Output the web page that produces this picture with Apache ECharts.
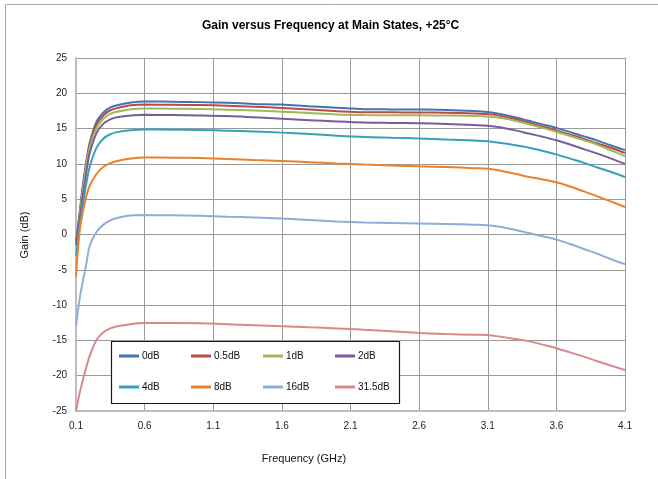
<!DOCTYPE html>
<html>
<head>
<meta charset="utf-8">
<script src="https://cdn.jsdelivr.net/npm/echarts@6/dist/echarts.min.js"></script>
<style>
html,body{margin:0;padding:0;background:#fff;}
#chart{width:658px;height:479px;}
</style>
</head>
<body>
<div id="chart"></div>
<script>
// Frequency points (GHz)
var freqGHz = [0.1,0.125,0.15,0.175,0.2,0.25,0.3,0.35,0.4,0.5,0.6,0.8,1.0,1.2,1.4,1.6,1.8,2.0,2.2,2.4,2.6,2.8,3.0,3.1,3.2,3.3,3.4,3.5,3.6,3.7,3.8,3.9,4.0,4.1];

// Gain (dB) for each attenuation state
var gain0dB   = [-1.2,2.8,7.0,10.3,13.0,16.0,17.3,18.0,18.3,18.7,18.85,18.8,18.75,18.65,18.5,18.4,18.15,17.95,17.75,17.72,17.7,17.65,17.5,17.35,17.05,16.6,16.1,15.6,15.1,14.5,13.9,13.3,12.6,11.95];
var gain05dB  = [-1.3,2.6,6.7,10.0,12.7,15.6,16.9,17.6,17.9,18.3,18.4,18.38,18.33,18.25,18.1,17.92,17.7,17.45,17.3,17.3,17.28,17.25,17.15,17.05,16.8,16.35,15.85,15.3,14.75,14.15,13.55,12.9,12.25,11.55];
var gain1dB   = [-1.4,2.4,6.4,9.7,12.3,15.1,16.4,17.1,17.4,17.75,17.85,17.82,17.77,17.68,17.55,17.4,17.2,17.0,16.92,16.9,16.88,16.85,16.8,16.72,16.5,16.1,15.6,15.1,14.55,13.95,13.35,12.7,11.9,11.1];
var gain2dB   = [-1.5,2.0,5.5,8.8,11.5,14.4,15.7,16.3,16.6,16.85,16.95,16.92,16.87,16.78,16.6,16.4,16.2,16.0,15.85,15.8,15.75,15.65,15.5,15.4,15.15,14.75,14.3,13.85,13.35,12.75,12.1,11.45,10.75,10.0];
var gain4dB   = [-3.0,0.8,4.2,7.2,9.6,12.3,13.6,14.2,14.5,14.75,14.86,14.85,14.8,14.7,14.58,14.43,14.25,14.0,13.8,13.7,13.6,13.45,13.3,13.2,12.95,12.65,12.3,11.85,11.35,10.75,10.15,9.5,8.85,8.15];
var gain8dB   = [-6.0,0.2,3.2,5.4,6.9,8.6,9.6,10.1,10.4,10.75,10.9,10.88,10.82,10.7,10.55,10.41,10.25,10.05,9.9,9.78,9.65,9.55,9.4,9.3,9.0,8.6,8.15,7.8,7.4,6.8,6.1,5.4,4.65,3.9];
var gain16dB  = [-13.0,-9.3,-6.6,-4.2,-1.6,0.4,1.4,2.0,2.35,2.7,2.75,2.72,2.65,2.52,2.4,2.25,2.05,1.85,1.7,1.62,1.55,1.48,1.38,1.3,1.05,0.65,0.2,-0.25,-0.7,-1.35,-2.05,-2.75,-3.5,-4.2];
var gain315dB = [-25.0,-22.6,-20.6,-18.8,-17.2,-14.9,-13.85,-13.3,-13.0,-12.7,-12.55,-12.55,-12.58,-12.7,-12.85,-13.0,-13.15,-13.3,-13.5,-13.7,-13.95,-14.1,-14.2,-14.25,-14.5,-14.8,-15.1,-15.6,-16.1,-16.7,-17.3,-17.95,-18.6,-19.2];

var seriesNames = ['0dB','0.5dB','1dB','2dB','4dB','8dB','16dB','31.5dB'];
var seriesGains = [gain0dB,gain05dB,gain1dB,gain2dB,gain4dB,gain8dB,gain16dB,gain315dB];
var colors = ['#4472B6','#BC4A46','#9BBB59','#7A5C9E','#38A0BB','#E9822F','#8EAED8','#D68B8A'];

var FONT = 'Liberation Sans, Arial, sans-serif';

var series = seriesNames.map(function(name, k){
  return {
    name: name,
    type: 'line',
    data: freqGHz.map(function(f,i){ return [f, seriesGains[k][i]]; }),
    symbol: 'none',
    smooth: 0.35,
    lineStyle: { width: 2, color: colors[k] },
    itemStyle: { color: colors[k] },
    z: 3
  };
});

var legendLefts = [119,191,263,335];
var legendTops = [351,382];
var legends = seriesNames.map(function(name,k){
  return {
    data: [name],
    left: legendLefts[k%4],
    top: legendTops[Math.floor(k/4)],
    padding: 0,
    icon: 'rect',
    itemWidth: 20,
    itemHeight: 3,
    itemGap: 0,
    selectedMode: false,
    z: 20,
    textStyle: { fontFamily: FONT, fontSize: 10, color: '#111', padding: [0,0,0,-2] }
  };
});

var chart = echarts.init(document.getElementById('chart'), null, {renderer:'canvas'});
chart.setOption({
  backgroundColor: '#fff',
  animation: false,
  color: colors,
  title: {
    text: 'Gain versus Frequency at Main States, +25°C',
    left: 202, top: 20, padding: 0,
    textStyle: { fontFamily: FONT, fontSize: 12, fontWeight: 'bold', color: '#000' }
  },
  grid: { left: 76, right: 33, top: 58, bottom: 68 },
  xAxis: {
    type: 'value', min: 0.1, max: 4.1, interval: 0.5,
    axisLine: { show: true, onZero: false, lineStyle: { color: '#bdbdbd', width: 2 } },
    axisTick: { show: false },
    axisLabel: { fontFamily: FONT, fontSize: 10, color: '#222', margin: 10,
      formatter: function(v){ return v.toFixed(1); } },
    splitLine: { show: true, lineStyle: { color: '#9a9a9a', width: 1 } }
  },
  yAxis: {
    type: 'value', min: -25, max: 25, interval: 5,
    axisLine: { show: true, onZero: false, lineStyle: { color: '#bdbdbd', width: 2 } },
    axisTick: { show: false },
    axisLabel: { fontFamily: FONT, fontSize: 10, color: '#222', margin: 9 },
    splitLine: { show: true, lineStyle: { color: '#9a9a9a', width: 1 } }
  },
  legend: legends,
  graphic: [
    { type: 'rect', shape: { x: 5.5, y: 4.5, width: 720, height: 520 },
      style: { fill: 'none', stroke: '#a8a8a8', lineWidth: 1 }, z: 1, silent: true },
    { type: 'rect', shape: { x: 111.5, y: 341.5, width: 288, height: 62 },
      style: { fill: '#fff', stroke: '#1a1a1a', lineWidth: 1.2 }, z: 10, silent: true },
    { type: 'text', x: 304, y: 459,
      style: { text: 'Frequency (GHz)', font: '11px ' + FONT, fill: '#111', align: 'center', verticalAlign: 'middle' }, z: 10 },
    { type: 'text', x: 25, y: 235, rotation: Math.PI/2,
      style: { text: 'Gain (dB)', font: '11px ' + FONT, fill: '#111', align: 'center', verticalAlign: 'middle' }, z: 10 }
  ],
  series: series
});
</script>
</body>
</html>
